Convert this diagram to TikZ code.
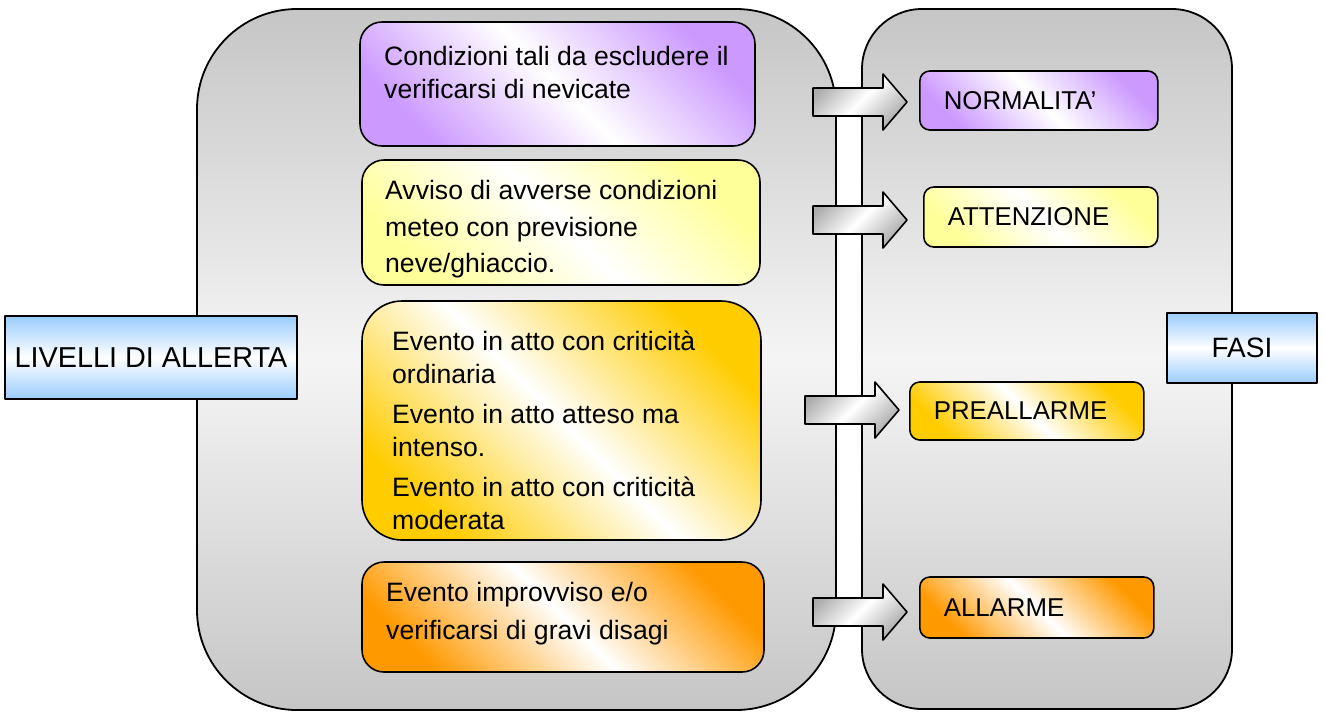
\documentclass[tikz,border=0pt]{standalone}
\usepackage{fontspec}
\setmainfont{Liberation Sans}
\usepackage{tikz}
\usetikzlibrary{positioning}
\definecolor{lilla}{RGB}{204,153,255}
\definecolor{giallino}{RGB}{255,255,153}
\definecolor{oro}{RGB}{255,204,0}
\definecolor{arancio}{RGB}{255,153,0}
\definecolor{celeste}{RGB}{153,204,255}

\begin{document}
\begin{tikzpicture}[x=1pt,y=-1pt,line join=round]
\tikzstyle{panel}=[draw=black, line width=1.8pt, top color=gray!45, bottom color=gray!45, middle color=gray!8]
\tikzstyle{etichetta}=[draw=black, line width=2pt, top color=celeste, bottom color=celeste, middle color=white, inner sep=0pt]
\tikzstyle{freccia}=[draw=black, line width=1.6pt, left color=gray!65, right color=gray!65, middle color=white, shading angle=45]
\tikzstyle{txt}=[align=left, inner sep=0pt, anchor=west]
\tikzset{livbox/.style={draw=black, line width=1.6pt, rounded corners=22pt, left color=#1, right color=#1, middle color=white, shading angle=-45, inner sep=0pt},
  phbox/.style={livbox=#1, rounded corners=10pt, minimum height=60pt, text width=186pt, inner xsep=24pt, align=left, anchor=west, font=\fontsize{25.8}{30}\selectfont}}
\useasboundingbox (0,0) rectangle (1324,713);
% the two grey panels
\node[panel, minimum width=639pt, minimum height=701pt, rounded corners=100pt] (pliv) at (516.5,359.5) {};
\node[panel, minimum width=370pt, minimum height=700pt, rounded corners=60pt] (pfasi) at (1047,359) {};
% alert levels
\node[livbox=lilla, minimum width=395pt, minimum height=124pt] (lv1) at (557.5,84) {};
\node[livbox=giallino, minimum width=398pt, minimum height=125pt] (lv2) at (561,222.5) {};
\node[livbox=oro, rounded corners=40pt, minimum width=399pt, minimum height=239pt] (lv3) at (561.5,420.5) {};
\node[livbox=arancio, minimum width=402pt, minimum height=110pt] (lv4) at (563,617) {};
\node[txt, font=\fontsize{26.6}{33}\selectfont] (t1) at (384,72) {Condizioni tali da escludere il\\verificarsi di nevicate};
\node[txt, font=\fontsize{26.6}{36.5}\selectfont] (t2) at (385,229.5) {Avviso di avverse condizioni\\meteo con previsione\\neve/ghiaccio.};
\node[txt, font=\fontsize{26.6}{33.5}\selectfont] (t3) at (392,430.5) {Evento in atto con criticità\\ordinaria\\[6pt]Evento in atto atteso ma\\intenso.\\[6pt]Evento in atto con criticità\\moderata};
\node[txt, font=\fontsize{26.6}{38}\selectfont] (t4) at (386,614) {Evento improvviso e/o\\verificarsi di gravi disagi};
% phases
\node[phbox=lilla, text width=190pt, minimum height=59pt] (ph1) at (919,100.5) {NORMALITA’};
\node[phbox=giallino] (ph2) at (923,217) {ATTENZIONE};
\node[phbox=oro, minimum height=58pt] (ph3) at (909,411) {PREALLARME};
\node[phbox=arancio, minimum height=61pt] (ph4) at (919,607.5) {ALLARME};
% block arrows
\foreach \ax/\ay in {813/102, 813/220, 805/410, 813/612}
  \draw[freccia] (\ax,\ay-14) -- ++(70,0) -- ++(0,-14) -- ({\ax+94},\ay) -- ({\ax+70},\ay+28) -- ++(0,-14) -- (\ax,\ay+14) -- cycle;
% side labels
\node[etichetta, minimum width=292pt, minimum height=83pt, font=\fontsize{28.8}{32}\selectfont] (livelli) at (151,357.5) {LIVELLI DI ALLERTA};
\node[etichetta, minimum width=150pt, minimum height=70pt, font=\fontsize{28}{32}\selectfont] (fasi) at (1242,348) {FASI};
\end{tikzpicture}
\end{document}
